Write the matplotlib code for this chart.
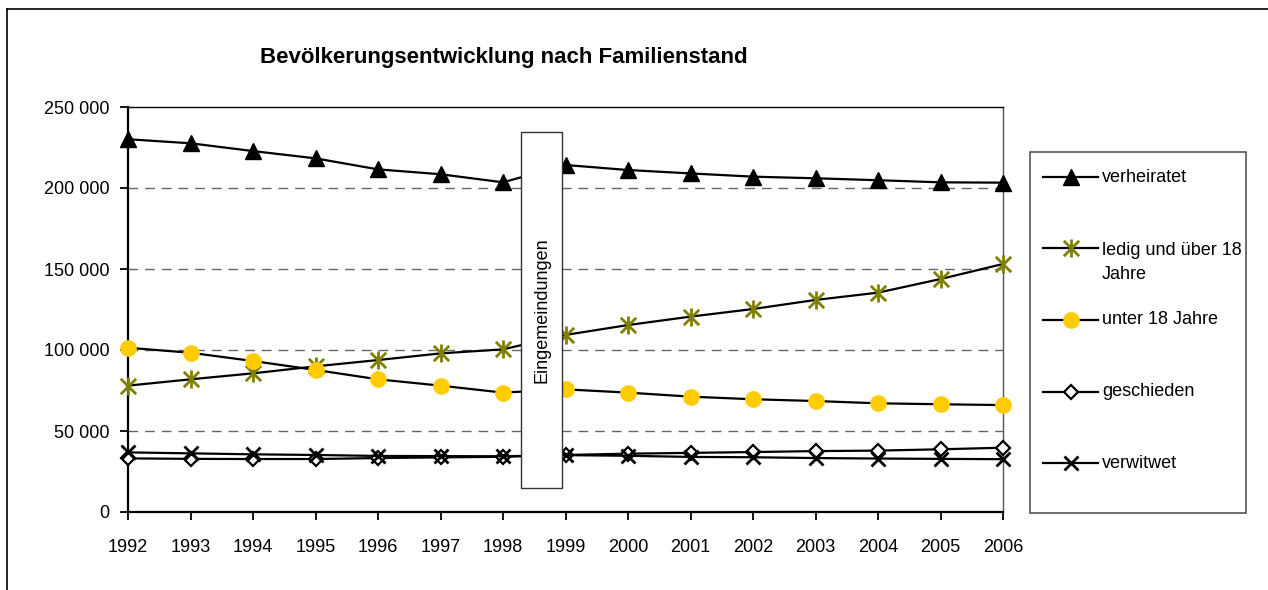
import matplotlib
matplotlib.use("Agg")
import matplotlib.pyplot as plt
from matplotlib.path import Path
from matplotlib.lines import Line2D
from matplotlib.patches import Rectangle
from matplotlib.ticker import FuncFormatter

plt.rcParams['font.family'] = ['Liberation Sans', 'DejaVu Sans']

years = list(range(1992, 2007))
verheiratet = [230100, 227600, 222800, 218300, 211500, 208500, 203500,
               214200, 211100, 209000, 207000, 206000, 204800, 203500, 203300]
ledig = [78000, 81900, 85600, 89900, 93800, 97900, 100400,
         109300, 115400, 120600, 125300, 130900, 135400, 143800, 153100]
unter18 = [101400, 98300, 93200, 87700, 81900, 78000, 73700,
           75700, 73700, 71200, 69600, 68500, 67100, 66500, 66000]
geschieden = [33100, 32800, 32700, 32700, 33300, 33700, 34100,
              35200, 36000, 36500, 37000, 37600, 37900, 38700, 39700]
verwitwet = [36800, 36200, 35600, 35200, 34600, 34500, 34400,
             35100, 34700, 34000, 33800, 33300, 33000, 32800, 32600]
yticks = [0, 50000, 100000, 150000, 200000, 250000]
labels = ["verheiratet", "ledig und über 18\nJahre", "unter 18 Jahre", "geschieden", "verwitwet"]
title = "Bevölkerungsentwicklung nach Familienstand"
annot = "Eingemeindungen"

asterisk = Path([(0, -1), (0, 1), (-0.85, -0.85), (0.85, 0.85), (-0.85, 0.85), (0.85, -0.85)],
                [Path.MOVETO, Path.LINETO, Path.MOVETO, Path.LINETO, Path.MOVETO, Path.LINETO])

styles = [
    dict(marker='^', ms=11, mfc='black', mec='black'),
    dict(marker=asterisk, ms=13, mfc='none', mec='#808000', mew=2),
    dict(marker='o', ms=11, mfc='#FFCC00', mec='#FFCC00'),
    dict(marker='D', ms=7, mfc='white', mec='black', mew=1.6),
    dict(marker='x', ms=10, mfc='none', mec='black', mew=2),
]
series = [verheiratet, ledig, unter18, geschieden, verwitwet]

FS = 13
W, H = 1268, 590
fig = plt.figure(figsize=(W / 100, H / 100), dpi=100)
ax = fig.add_axes([128 / W, 78 / H, 875 / W, 405 / H])

for vals, st in zip(series, styles):
    ax.plot(years, vals, color='black', lw=1.6, clip_on=False, zorder=3, **st)

ax.set_xlim(1992, 2006)
ax.set_ylim(0, 250000)
ax.set_xticks(years)
ax.set_yticks(yticks)
ax.yaxis.set_major_formatter(FuncFormatter(lambda v, p: f"{int(v):,}".replace(",", " ")))
for v in yticks[1:-1]:
    ax.axhline(v, color='#666666', lw=1, ls=(0, (7, 5)), zorder=1)

ax.tick_params(axis='both', labelsize=FS, direction='out', length=5.5, width=1.3, color='black')
ax.tick_params(axis='x', pad=14)
ax.tick_params(axis='y', pad=8)
ax.spines['left'].set_linewidth(1.6)
ax.spines['bottom'].set_linewidth(1.6)
ax.spines['top'].set_linewidth(1.0)
ax.spines['right'].set_linewidth(1.0)
ax.spines['right'].set_color('#555555')

# annotation box
ax.add_patch(Rectangle(((521 - 128) / 875, (512 - 488) / 405), 41 / 875, 356 / 405,
                       transform=ax.transAxes, facecolor='white', edgecolor='#333333',
                       lw=1, zorder=5, clip_on=False))
ax.text((541.5 - 128) / 875, (512 - 310) / 405, annot, transform=ax.transAxes,
        rotation=90, ha='center', va='center', fontsize=FS, zorder=6)

fig.text(504 / W, 1 - 57 / H, title, ha='center', va='center', fontsize=16, fontweight='bold')

# legend (manual)
fig.patches.append(Rectangle((1030 / W, 1 - 513 / H), 216 / W, 361 / H, transform=fig.transFigure,
                             facecolor='white', edgecolor='#555555', lw=1.2))
ys = [177, 248, 320, 392, 463]
for y, st, lab in zip(ys, styles, labels):
    fig.lines.append(Line2D([1043 / W, 1098 / W], [1 - y / H] * 2, transform=fig.transFigure,
                            color='black', lw=1.6))
    fig.lines.append(Line2D([1070.5 / W], [1 - y / H], transform=fig.transFigure,
                            ls='none', **st))
    if '\n' in lab:
        fig.text(1102 / W, 1 - (y - 6) / H, lab, ha='left', va='top', fontsize=FS, linespacing=1.55)
    else:
        fig.text(1102 / W, 1 - y / H, lab, ha='left', va='center', fontsize=FS)

# outer frame (cropped)
fig.lines.append(Line2D([7 / W, 1.0], [1 - 9 / H] * 2, transform=fig.transFigure, color='black', lw=1.2))
fig.lines.append(Line2D([7 / W, 7 / W], [1 - 9 / H, 0], transform=fig.transFigure, color='black', lw=1.2))

fig.savefig("out.png", dpi=100)
